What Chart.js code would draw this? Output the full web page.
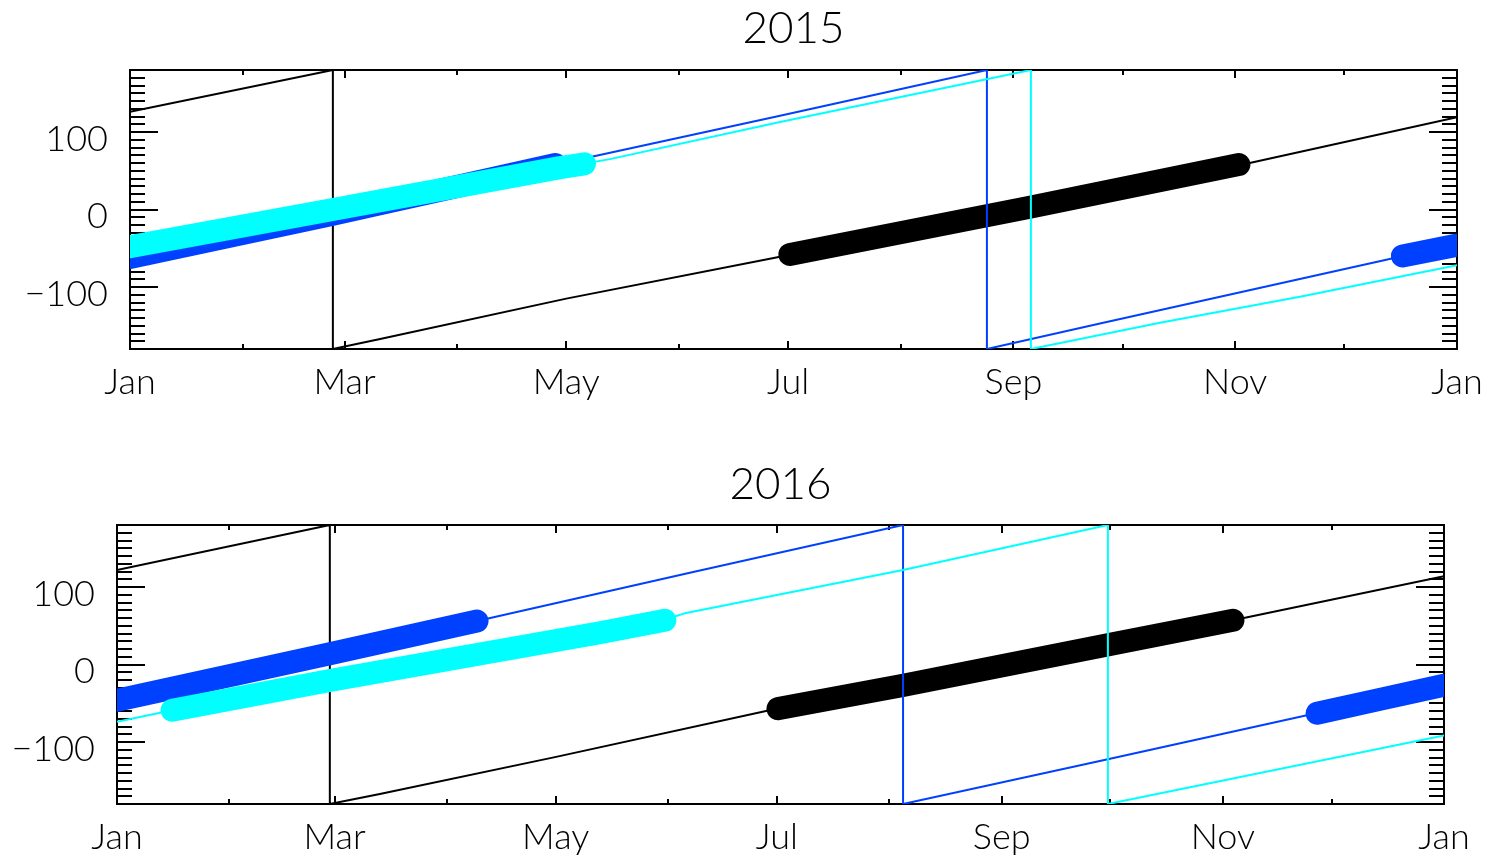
<!DOCTYPE html>
<html>
<head>
<meta charset="utf-8">
<script src="https://cdn.jsdelivr.net/npm/chart.js@4.4.1/dist/chart.umd.min.js"></script>
<style>
  html, body { margin: 0; padding: 0; background: #fff; }
  body { width: 1491px; height: 857px; position: relative; overflow: hidden; }
  canvas { position: absolute; left: 0; }
  #c2015 { top: 0; }
  #c2016 { top: 440px; }
</style>
</head>
<body>
<canvas id="c2015" width="1491" height="440"></canvas>
<canvas id="c2016" width="1491" height="417"></canvas>
<script>
// Month starts as day-of-year, and their names
const MONTH_DAYS_2015 = [0, 31, 59, 90, 120, 151, 181, 212, 243, 273, 304, 334, 365];
const MONTH_DAYS_2016 = [0, 31, 60, 91, 121, 152, 182, 213, 244, 274, 305, 335, 366];
const MONTH_NAMES = ['Jan', 'Feb', 'Mar', 'Apr', 'May', 'Jun', 'Jul', 'Aug', 'Sep', 'Oct', 'Nov', 'Dec', 'Jan'];
const Y_LABELS = [-100, 0, 100];
const Y_MINOR_STEP = 10;

// ---- 2015 (day of year, angle in degrees; a repeated day marks the wrap) ----
const black15Day = [0, 55.8, 55.8, 68.8, 120, 178.8, 247.5, 306.1, 365];
const black15Deg = [126, 180, -180, -167, -115, -61, 3, 58, 119];
const black15ThickDay = [181.5, 247.5, 305];
const black15ThickDeg = [-58, 3, 58];

const blue15Day = [0, 55.8, 119.1, 178.8, 235.7, 235.7, 266.8, 347.4, 365];
const blue15Deg = [-62, -6, 60, 121, 180, -180, -147, -63, -46];
const blue15ThickDay = [0, 55.8, 117, 233, 350, 365];
const blue15ThickDeg = [-62, -6, 58, null, -60, -46];

const cyan15Day = [0, 55.8, 118.3, 132, 178.8, 247.8, 247.8, 283.3, 321.8, 365];
const cyan15Deg = [-48, 0, 54, 65, 113, 180, -180, -146, -112.5, -72];
const cyan15ThickDay = [0, 55.8, 118.3, 125];
const cyan15ThickDeg = [-48, 0, 54, 59];

// ---- 2016 ----
const black16Day = [0, 58.7, 58.7, 72.5, 120.8, 180.9, 216.8, 273.9, 307.8, 366];
const black16Deg = [122, 180, -180, -167, -119.5, -58, -27, 26, 57, 114];
const black16ThickDay = [182.3, 216.8, 273.9, 307.8];
const black16ThickDeg = [-57, -27, 26, 57];

const blue16Day = [0, 58.7, 99.3, 158, 216.8, 216.8, 273.9, 328.2, 366];
const blue16Deg = [-46, 14, 56, 118.5, 180, -180, -121.6, -65.6, -26.8];
const blue16ThickDay = [0, 58.7, 99.3, 215, 331, 348.3, 366];
const blue16ThickDeg = [-46, 14, 56, null, -63, -45, -26.8];

const cyan16Day = [0, 15.2, 58.7, 133.2, 151.1, 156.6, 216.8, 273.3, 273.3, 366];
const cyan16Deg = [-74, -59, -20.7, 41, 58, 66, 122, 180, -180, -91.5];
const cyan16ThickDay = [15.2, 58.7, 133.2, 151.1];
const cyan16ThickDeg = [-59, -20.7, 41, 57];

const COLORS = { black: '#000000', blue: '#0040ff', cyan: '#00ffff' };
const THIN = 2;
const THICK = 23;
const FONT_FAMILY = 'Lato, "Liberation Sans", Arial, sans-serif';

function points(days, degs) {
  return days.map((d, i) => ({ x: d, y: degs[i] }));
}

function line(days, degs, color, width, order) {
  return {
    data: points(days, degs),
    borderColor: color,
    backgroundColor: color,
    borderWidth: width,
    borderCapStyle: width > THIN ? 'round' : 'butt',
    borderJoinStyle: 'round',
    pointRadius: 0,
    tension: 0,
    fill: false,
    spanGaps: false,
    clip: 0,
    order: order
  };
}

// Frame and inward tick marks on all four sides, drawn beneath the traces
const frameTicks = {
  id: 'frameTicks',
  beforeDatasetsDraw(chart, args, opts) {
    const { ctx, chartArea: a, scales: { x, y } } = chart;
    ctx.save();
    ctx.strokeStyle = '#000';
    ctx.lineWidth = 2;
    ctx.beginPath();
    opts.monthDays.forEach((d, i) => {
      if (i === 0 || i === opts.monthDays.length - 1) return;
      const px = Math.round(x.getPixelForValue(d));
      const len = i % 2 === 0 ? 8 : 5;
      ctx.moveTo(px, a.top); ctx.lineTo(px, a.top + len);
      ctx.moveTo(px, a.bottom); ctx.lineTo(px, a.bottom - len);
    });
    for (let v = -180 + Y_MINOR_STEP; v < 180; v += Y_MINOR_STEP) {
      const py = Math.round(y.getPixelForValue(v));
      const len = v % 100 === 0 ? 28 : 15;
      ctx.moveTo(a.left, py); ctx.lineTo(a.left + len, py);
      ctx.moveTo(a.right, py); ctx.lineTo(a.right - len, py);
    }
    ctx.stroke();
    ctx.strokeRect(a.left, a.top, a.right - a.left, a.bottom - a.top);
    ctx.restore();
  }
};

function makeChart(id, cfg) {
  const monthDays = cfg.monthDays;
  return new Chart(document.getElementById(id), {
    type: 'line',
    data: { datasets: cfg.datasets },
    plugins: [frameTicks],
    options: {
      responsive: false,
      animation: false,
      devicePixelRatio: 1,
      events: [],
      layout: { padding: { left: 0, right: cfg.padRight, top: 0, bottom: 0 } },
      plugins: {
        legend: { display: false },
        tooltip: { enabled: false },
        frameTicks: { monthDays: monthDays },
        title: {
          display: true,
          text: cfg.title,
          fullSize: false,
          color: '#000',
          font: { family: FONT_FAMILY, size: 44, weight: 300, lineHeight: 1.2 },
          padding: { top: cfg.titleTop, bottom: cfg.titleBottom }
        }
      },
      scales: {
        x: {
          type: 'linear',
          min: 0,
          max: monthDays[monthDays.length - 1],
          grid: { display: false },
          border: { display: false },
          afterBuildTicks(scale) {
            scale.ticks = monthDays.filter((d, i) => i % 2 === 0).map(v => ({ value: v }));
          },
          afterFit(scale) {
            scale.height = cfg.xHeight;
            scale.paddingLeft = 0;
            scale.paddingRight = 0;
          },
          ticks: {
            autoSkip: false,
            maxRotation: 0,
            padding: 4,
            color: '#000',
            font: { family: FONT_FAMILY, size: 36, weight: 300, lineHeight: 1.2 },
            callback: (v) => MONTH_NAMES[monthDays.indexOf(v)]
          }
        },
        y: {
          type: 'linear',
          min: -180,
          max: 180,
          grid: { display: false },
          border: { display: false },
          afterBuildTicks(scale) {
            scale.ticks = Y_LABELS.map(v => ({ value: v }));
          },
          afterFit(scale) {
            scale.width = cfg.yWidth;
            scale.paddingTop = 0;
            scale.paddingBottom = 0;
          },
          ticks: {
            padding: 14,
            labelOffset: 7,
            color: '#000',
            font: { family: FONT_FAMILY, size: 36, weight: 300, lineHeight: 1.2 },
            callback: (v) => (v < 0 ? '\u2212' + (-v) : String(v))
          }
        }
      }
    }
  });
}

makeChart('c2015', {
  title: '2015',
  monthDays: MONTH_DAYS_2015,
  padRight: 34,
  yWidth: 130,
  xHeight: 91,
  titleTop: 2,
  titleBottom: 15.2,
  datasets: [
    line(cyan15ThickDay, cyan15ThickDeg, COLORS.cyan, THICK, 1),
    line(cyan15Day, cyan15Deg, COLORS.cyan, THIN, 2),
    line(blue15ThickDay, blue15ThickDeg, COLORS.blue, THICK, 3),
    line(blue15Day, blue15Deg, COLORS.blue, THIN, 4),
    line(black15ThickDay, black15ThickDeg, COLORS.black, THICK, 5),
    line(black15Day, black15Deg, COLORS.black, THIN, 6)
  ]
});

makeChart('c2016', {
  title: '2016',
  monthDays: MONTH_DAYS_2016,
  padRight: 47,
  yWidth: 117,
  xHeight: 53,
  titleTop: 18.6,
  titleBottom: 13.6,
  datasets: [
    line(cyan16ThickDay, cyan16ThickDeg, COLORS.cyan, THICK, 1),
    line(cyan16Day, cyan16Deg, COLORS.cyan, THIN, 2),
    line(blue16ThickDay, blue16ThickDeg, COLORS.blue, THICK, 3),
    line(blue16Day, blue16Deg, COLORS.blue, THIN, 4),
    line(black16ThickDay, black16ThickDeg, COLORS.black, THICK, 5),
    line(black16Day, black16Deg, COLORS.black, THIN, 6)
  ]
});
</script>
</body>
</html>
